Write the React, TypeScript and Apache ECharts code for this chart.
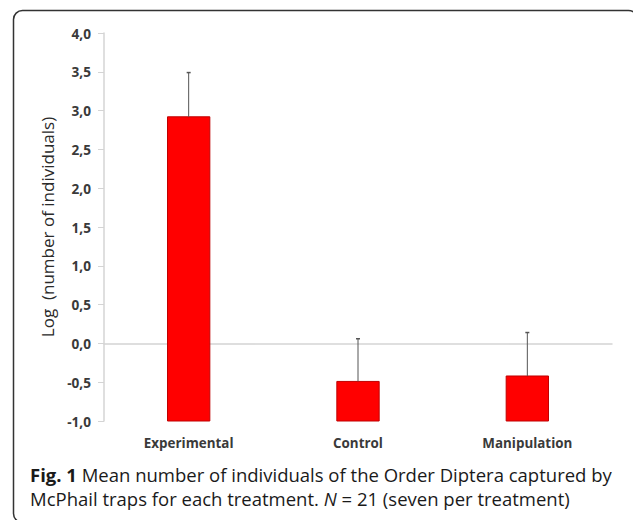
import React, { useEffect, useRef } from "react";
import * as echarts from "echarts";

const categories = ["Experimental", "Control", "Manipulation"];
const means = [2.92, -0.49, -0.42];
const errorTops = [3.49, 0.06, 0.14];
const yMin = -1;
const yMax = 4;
const yStep = 0.5;
const yAxisTitle = "Log  (number of individuals)";
const captionBold = "Fig. 1";
const captionLine1 = " Mean number of individuals of the Order Diptera captured by";
const captionLine2a = "McPhail traps for each treatment. ";
const captionItalic = "N";
const captionLine2b = " = 21 (seven per treatment)";

export default function App() {
  const ref = useRef<HTMLDivElement>(null);
  useEffect(() => {
    document.body.style.margin = "0";
    const chart = echarts.init(ref.current!, null, { renderer: "svg" });
    const data = categories.map((c, i) => [i, means[i], errorTops[i]]);
    chart.setOption({
      animation: false,
      backgroundColor: "#ffffff",
      grid: { left: 104, right: 21, top: 33, bottom: 99 },
      xAxis: {
        type: "category",
        data: categories,
        axisLine: { lineStyle: { color: "#d4d4d4", width: 1.5 } },
        axisTick: { show: false },
        axisLabel: {
          fontFamily: "Open Sans",
          fontWeight: "bold",
          fontSize: 13.4,
          color: "#3a3a3a",
          margin: 15,
        },
      },
      yAxis: {
        type: "value",
        min: yMin,
        max: yMax,
        interval: yStep,
        name: yAxisTitle,
        nameLocation: "middle",
        nameRotate: 90,
        nameGap: 48,
        nameTextStyle: { fontFamily: "Open Sans", fontSize: 17, color: "#2a2a2a" },
        splitLine: { show: false },
        axisLine: { show: true, lineStyle: { color: "#d4d4d4", width: 1.5 } },
        axisTick: { show: true, length: 6, lineStyle: { color: "#d4d4d4" } },
        axisLabel: {
          fontFamily: "Open Sans",
          fontWeight: "bold",
          fontSize: 13.6,
          color: "#3a3a3a",
          margin: 13,
          formatter: (v: number) => v.toFixed(1).replace(".", ","),
        },
      },
      series: [
        {
          type: "custom",
          data,
          encode: { x: 0, y: 1 },
          renderItem: (params: any, api: any) => {
            const idx = api.value(0);
            const v = api.value(1);
            const e = api.value(2);
            const base = api.coord([idx, yMin]);
            const top = api.coord([idx, v]);
            const et = api.coord([idx, e]);
            const w = api.size([1, 0])[0] * 0.25;
            return {
              type: "group",
              children: [
                {
                  type: "rect",
                  shape: { x: top[0] - w / 2, y: top[1], width: w, height: base[1] - top[1] },
                  style: { fill: "#ff0000", stroke: "#c00000", lineWidth: 1 },
                },
                {
                  type: "line",
                  shape: { x1: top[0], y1: top[1], x2: et[0], y2: et[1] },
                  style: { stroke: "#555555", lineWidth: 1 },
                },
                {
                  type: "line",
                  shape: { x1: et[0] - 2, y1: et[1], x2: et[0] + 2, y2: et[1] },
                  style: { stroke: "#555555", lineWidth: 1.5 },
                },
              ],
            };
          },
        },
      ],
      graphic: [
        {
          type: "rect",
          shape: { x: 13.5, y: 10.5, width: 624, height: 512, r: 9 },
          style: { fill: "none", stroke: "#333333", lineWidth: 1.5 },
        },
        {
          type: "text",
          left: 30,
          top: 465,
          style: {
            text:
              "{b|" + captionBold + "}{n|" + captionLine1 + "}\n{n|" + captionLine2a + "}{i|" + captionItalic + "}{n|" + captionLine2b + "}",
            rich: {
              b: { fontFamily: "Open Sans", fontWeight: "bold", fontSize: 18.5, fill: "#1a1a1a", lineHeight: 24 },
              n: { fontFamily: "Open Sans", fontSize: 18.5, fill: "#1a1a1a", lineHeight: 24 },
              i: { fontFamily: "Open Sans", fontStyle: "italic", fontSize: 18.5, fill: "#1a1a1a", lineHeight: 24 },
            },
          },
        },
      ],
    });
    return () => chart.dispose();
  }, []);
  return <div ref={ref} style={{ width: 633, height: 520 }} />;
}
